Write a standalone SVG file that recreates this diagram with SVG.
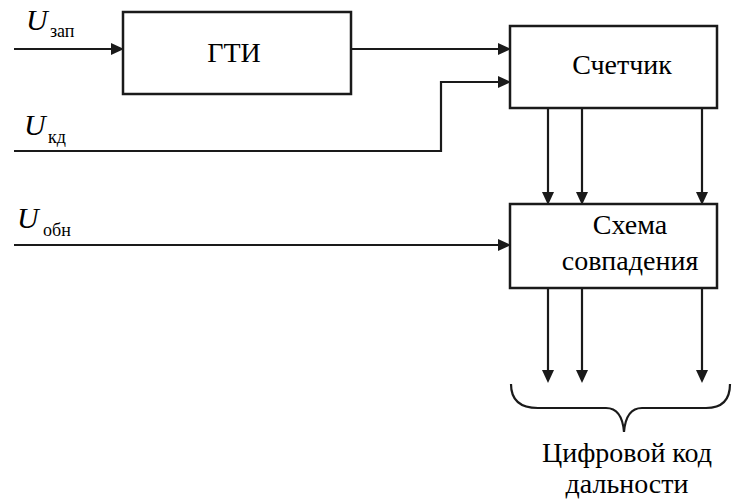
<svg xmlns="http://www.w3.org/2000/svg" width="732" height="501" viewBox="0 0 732 501">
<style>
.box{fill:#fff;stroke:#1a1a1a;stroke-width:2.5}
.ln{fill:none;stroke:#1a1a1a;stroke-width:2.2}
.ah{fill:#1a1a1a}
.t{font-family:'Liberation Serif','DejaVu Serif',serif;font-size:28px;text-anchor:middle;fill:#000}
.u{font-family:'Liberation Serif','DejaVu Serif',serif;font-size:30px;font-style:italic;fill:#000}
.s{font-family:'Liberation Serif','DejaVu Serif',serif;font-size:18px;fill:#000}
</style>
<g id="labels">
<text class="u" x="26" y="30">U</text><text class="s" x="50" y="37">зап</text>
<text class="u" x="24" y="135">U</text><text class="s" x="48" y="143">кд</text>
<text class="u" x="17" y="228">U</text><text class="s" x="43" y="236">обн</text>
</g>
<g id="connectors">
<path class="ln" d="M14,49 L113,49"/>
<polygon class="ah" points="111,43 124,49 111,55"/>
<path class="ln" d="M351,49 L500,49"/>
<polygon class="ah" points="498,43 511,49 498,55"/>
<path class="ln" d="M14,151 L441,151 L441,82 L500,82"/>
<polygon class="ah" points="498,76 511,82 498,88"/>
<path class="ln" d="M14,245 L500,245"/>
<polygon class="ah" points="498,239 511,245 498,251"/>
<path class="ln" d="M548,108 L548,194"/>
<polygon class="ah" points="542,192 548,205 554,192"/>
<path class="ln" d="M582,108 L582,194"/>
<polygon class="ah" points="576,192 582,205 588,192"/>
<path class="ln" d="M702,108 L702,194"/>
<polygon class="ah" points="696,192 702,205 708,192"/>
<path class="ln" d="M548,288 L548,372"/>
<polygon class="ah" points="542,370 548,383 554,370"/>
<path class="ln" d="M582,288 L582,372"/>
<polygon class="ah" points="576,370 582,383 588,370"/>
<path class="ln" d="M702,288 L702,372"/>
<polygon class="ah" points="696,370 702,383 708,370"/>
</g>
<g id="gti">
<rect class="box" x="123" y="12" width="228" height="82"/>
<text class="t" x="234" y="62">ГТИ</text>
</g>
<g id="counter">
<rect class="box" x="510" y="26" width="207" height="82"/>
<text class="t" x="622" y="74">Счетчик</text>
</g>
<g id="match">
<rect class="box" x="510" y="204" width="207" height="84"/>
<text class="t" x="630" y="234">Схема</text>
<text class="t" x="630" y="270">совпадения</text>
</g>
<g id="code">
<path class="ln" d="M511,384 Q511,408 538,408 L606,408 Q622,408 624,432 Q626,408 642,408 L706,408 Q730,408 730,384"/>
<text class="t" x="627" y="462">Цифровой код</text>
<text class="t" x="627" y="493">дальности</text>
</g>
</svg>
